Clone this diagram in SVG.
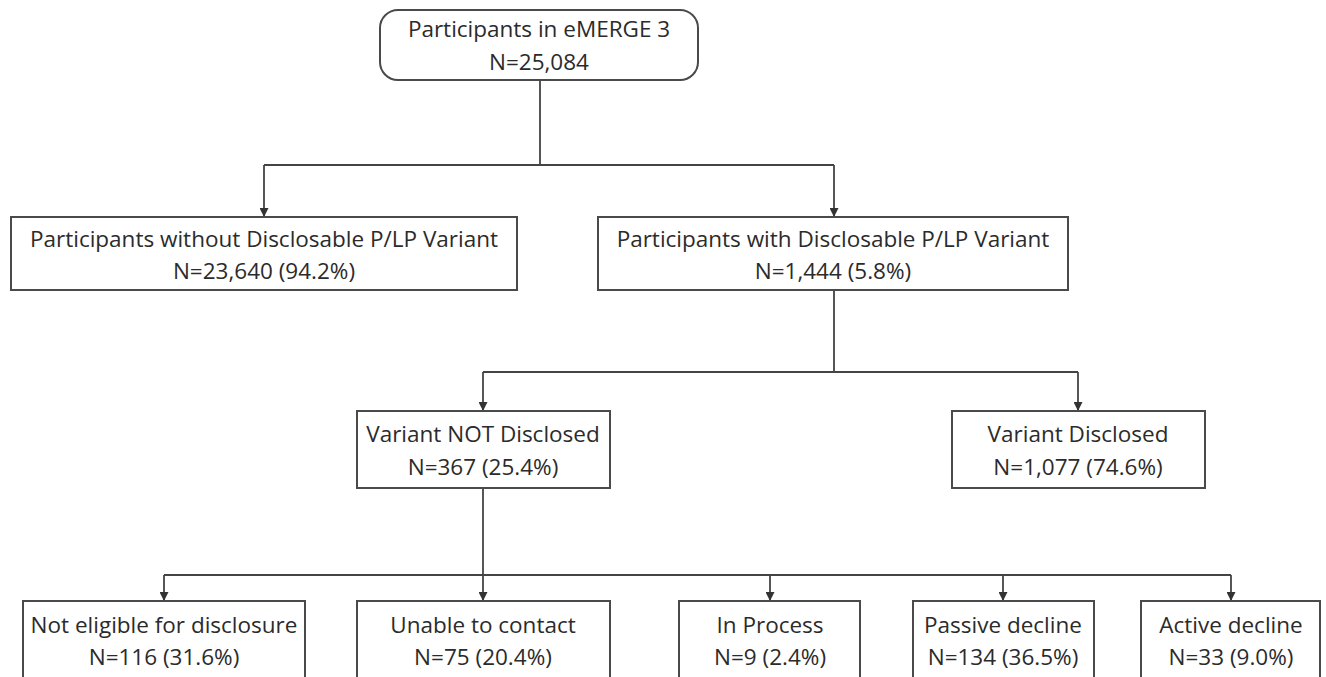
<svg xmlns="http://www.w3.org/2000/svg" width="1326" height="677" viewBox="0 0 1326 677">
<style>
.box{fill:#ffffff;stroke:#4a4a4a;stroke-width:2}
.t{font-family:"Open Sans","Noto Sans",sans-serif;font-size:22.5px;fill:#2b2b2b;text-anchor:middle}
.c{fill:none;stroke:#444444;stroke-width:1.8}
.a{marker-end:url(#arr)}
</style>
<defs>
<marker id="arr" markerUnits="userSpaceOnUse" markerWidth="9" markerHeight="9" refX="9" refY="4.5" orient="auto">
<path d="M0,0 L9,4.5 L0,9 z" fill="#333333"/>
</marker>
</defs>
<rect width="1326" height="677" fill="#ffffff"/>
<g id="connectors">
<path class="c" d="M540 80 V165 M264 165 H834"/>
<path class="c a" d="M264 165 V217"/>
<path class="c a" d="M834 165 V217"/>
<path class="c" d="M834 290 V372 M483 372 H1078"/>
<path class="c a" d="M483 372 V411"/>
<path class="c a" d="M1078 372 V411"/>
<path class="c a" d="M483 488 V601"/>
<path class="c" d="M164 575 H1231"/>
<path class="c a" d="M164 575 V601"/>
<path class="c a" d="M770 575 V601"/>
<path class="c a" d="M1003 575 V601"/>
<path class="c a" d="M1231 575 V601"/>
</g>
<g id="n_top">
<rect class="box" x="380" y="10" width="318" height="70" rx="18" ry="18"/>
<text class="t" x="539" y="37">Participants in eMERGE 3</text>
<text class="t" x="539" y="70">N=25,084</text>
</g>
<g id="n_without">
<rect class="box" x="11" y="217" width="506" height="73"/>
<text class="t" x="264" y="247">Participants without Disclosable P/LP Variant</text>
<text class="t" x="264" y="279">N=23,640 (94.2%)</text>
</g>
<g id="n_with">
<rect class="box" x="598" y="217" width="470" height="73"/>
<text class="t" x="833" y="247">Participants with Disclosable P/LP Variant</text>
<text class="t" x="833" y="279">N=1,444 (5.8%)</text>
</g>
<g id="n_notdisclosed">
<rect class="box" x="357" y="411" width="253" height="77"/>
<text class="t" x="483" y="442">Variant NOT Disclosed</text>
<text class="t" x="483" y="475">N=367 (25.4%)</text>
</g>
<g id="n_disclosed">
<rect class="box" x="952" y="411" width="253" height="77"/>
<text class="t" x="1078" y="442">Variant Disclosed</text>
<text class="t" x="1078" y="475">N=1,077 (74.6%)</text>
</g>
<g id="n_noteligible">
<rect class="box" x="23" y="601" width="282" height="90"/>
<text class="t" x="164" y="633">Not eligible for disclosure</text>
<text class="t" x="164" y="665">N=116 (31.6%)</text>
</g>
<g id="n_unable">
<rect class="box" x="357" y="601" width="253" height="90"/>
<text class="t" x="483" y="633">Unable to contact</text>
<text class="t" x="483" y="665">N=75 (20.4%)</text>
</g>
<g id="n_inprocess">
<rect class="box" x="679" y="601" width="181" height="90"/>
<text class="t" x="770" y="633">In Process</text>
<text class="t" x="770" y="665">N=9 (2.4%)</text>
</g>
<g id="n_passive">
<rect class="box" x="913" y="601" width="181" height="90"/>
<text class="t" x="1003" y="633">Passive decline</text>
<text class="t" x="1003" y="665">N=134 (36.5%)</text>
</g>
<g id="n_active">
<rect class="box" x="1141" y="601" width="179" height="90"/>
<text class="t" x="1231" y="633">Active decline</text>
<text class="t" x="1231" y="665">N=33 (9.0%)</text>
</g>
</svg>
